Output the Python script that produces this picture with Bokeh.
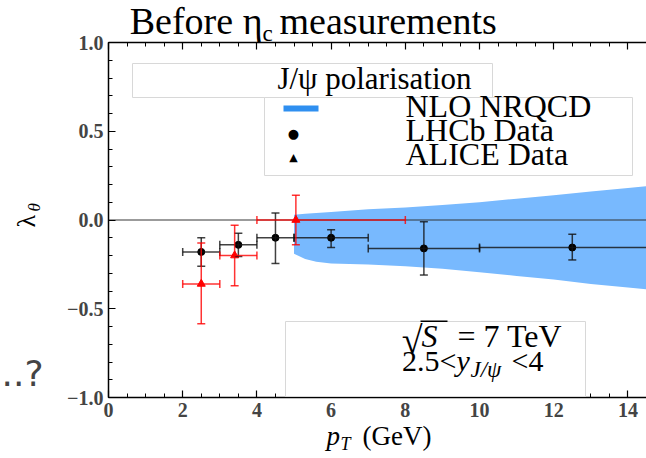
from bokeh.plotting import figure
from bokeh.models import (Label, BoxAnnotation, Whisker, TeeHead, ColumnDataSource,
                          FixedTicker, LinearAxis, CustomJSTickFormatter, Range1d)
from bokeh.embed import file_html
from bokeh.resources import INLINE
import math

# ---------------- data ----------------
# LHCb J/psi polarisation (black circles)
lhcb_pt = [2.5, 3.5, 4.5, 6.0, 8.5, 12.5]
lhcb_pt_lo = [2.0, 3.0, 4.0, 5.0, 7.0, 10.0]
lhcb_pt_hi = [3.0, 4.0, 5.0, 7.0, 10.0, 15.0]
lhcb_lam = [-0.18, -0.14, -0.10, -0.10, -0.16, -0.155]
lhcb_lam_hi = [-0.10, -0.075, 0.04, -0.055, -0.01, -0.08]
lhcb_lam_lo = [-0.26, -0.205, -0.245, -0.155, -0.31, -0.225]

# ALICE J/psi polarisation (red triangles)
alice_pt = [2.5, 3.4, 5.05]
alice_pt_lo = [2.0, 3.0, 4.0]
alice_pt_hi = [3.0, 4.0, 8.0]
alice_lam = [-0.36, -0.20, 0.0]
alice_lam_hi = [-0.13, -0.03, 0.14]
alice_lam_lo = [-0.585, -0.37, -0.14]

# NLO NRQCD band
band_pt = [5.0, 5.3, 5.6, 6.0, 7.0, 8.0, 9.0, 10.0, 11.0, 12.0, 13.0, 14.0, 15.0]
band_hi = [0.03, 0.035, 0.04, 0.045, 0.06, 0.07, 0.085, 0.10, 0.12, 0.14, 0.16, 0.18, 0.20]
band_lo = [-0.19, -0.22, -0.235, -0.245, -0.25, -0.26, -0.275, -0.295, -0.315, -0.335, -0.36, -0.38, -0.40]

zero_x = [0.0]
zero_x_end = [15.0]
zero_y = [0.0]

x_major = [0, 2, 4, 6, 8, 10, 12, 14]
y_major = [-1.0, -0.5, 0.0, 0.5, 1.0]
x_lim = (0.0, 14.5)
y_lim = (-1.0, 1.0)

# ---------------- layout (canvas px <-> data) ----------------
W, H = 646, 458
FL, FT, FW, FH = 108, 42, 538, 355
KX = FW / (x_lim[1] - x_lim[0])
KY = FH / (y_lim[1] - y_lim[0])


def X(px):
    return x_lim[0] + (px - FL) / KX


def Y(py):
    return y_lim[1] - (py - FT) / KY


SERIF = "Liberation Serif"

p = figure(width=W, height=H, x_range=Range1d(X(0), X(W)), y_range=Range1d(Y(H), Y(0)),
           output_backend="svg", toolbar_location=None, title=None, min_border=0,
           min_border_left=0, min_border_right=0, min_border_top=0, min_border_bottom=0)
p.outline_line_color = None
p.grid.visible = False
p.background_fill_color = "white"
p.border_fill_color = "white"

bottom = p.below[0]
left = p.left[0]
top = LinearAxis()
p.add_layout(top, "above")

bottom.fixed_location = y_lim[0]
top.fixed_location = y_lim[1]
left.fixed_location = x_lim[0]
bottom.bounds = x_lim
top.bounds = x_lim
left.bounds = y_lim

x_minor = [i * 0.5 for i in range(0, 30)]
y_minor = [round(-1 + i * 0.1, 2) for i in range(0, 21)]
bottom.ticker = FixedTicker(ticks=x_major, minor_ticks=x_minor)
top.ticker = FixedTicker(ticks=x_major, minor_ticks=x_minor)
left.ticker = FixedTicker(ticks=y_major, minor_ticks=y_minor)

left.formatter = CustomJSTickFormatter(
    code="return (tick < 0 ? '\u2212' : '') + Math.abs(tick).toFixed(1);")
bottom.formatter = CustomJSTickFormatter(code="return tick.toFixed(0);")
top.formatter = CustomJSTickFormatter(code="return '';")

for ax in [bottom, left, top]:
    ax.axis_line_color = "black"
    ax.axis_line_width = 1.5
    ax.major_tick_in = 7
    ax.major_tick_out = 0
    ax.minor_tick_in = 4
    ax.minor_tick_out = 0
    ax.major_tick_line_width = 1.2
    ax.minor_tick_line_width = 1
    ax.major_label_text_font = SERIF
    ax.major_label_text_font_style = "bold"
    ax.major_label_text_font_size = "20px"
    ax.major_label_standoff = 5
top.major_label_text_font_size = "1px"

# band
p.varea(x=band_pt, y1=band_lo, y2=band_hi, fill_color="#78b9fe")
# zero line
p.segment(x0=zero_x, y0=zero_y, x1=zero_x_end, y1=zero_y,
          line_color="#333333", line_alpha=0.65, line_width=1.5)

lhcb = ColumnDataSource(dict(x=lhcb_pt, y=lhcb_lam, xlo=lhcb_pt_lo, xhi=lhcb_pt_hi,
                             ylo=lhcb_lam_lo, yhi=lhcb_lam_hi))
alice = ColumnDataSource(dict(x=alice_pt, y=alice_lam, xlo=alice_pt_lo, xhi=alice_pt_hi,
                              ylo=alice_lam_lo, yhi=alice_lam_hi))


def errbars(src, color, alpha):
    for dim, base, lo, hi in [("height", "x", "ylo", "yhi"), ("width", "y", "xlo", "xhi")]:
        w = Whisker(source=src, base=base, lower=lo, upper=hi, dimension=dim,
                    line_color=color, line_alpha=alpha, line_width=1.5, level="annotation",
                    lower_head=TeeHead(size=8, line_color=color, line_alpha=alpha, line_width=1.5),
                    upper_head=TeeHead(size=8, line_color=color, line_alpha=alpha, line_width=1.5))
        p.add_layout(w)


p.scatter("x", "y", source=lhcb, marker="circle", size=7, color="black")
p.scatter("x", "y", source=alice, marker="triangle", size=8, color="#ff0000")
errbars(lhcb, "#111111", 0.8)
errbars(alice, "#ff0000", 0.8)


def box(l, t, r, b, fill="white", line="#d8d8d8"):
    p.add_layout(BoxAnnotation(left=X(l), right=X(r), top=Y(t), bottom=Y(b),
                               fill_color=fill, fill_alpha=1, line_color=line, line_width=1,
                               line_alpha=1 if line else 0))


BASE_SHIFT = 0.35  # empirical baseline correction (em)


def lab(text, px, py, size, style="normal", align="left", baseline="alphabetic",
        font=SERIF, color="black", angle=0):
    if baseline == "alphabetic":
        if angle:
            px = px - BASE_SHIFT * size
        else:
            py = py - BASE_SHIFT * size
    p.add_layout(Label(x=X(px), y=Y(py), text=text, text_font=font,
                       text_font_size=f"{size}px", text_font_style=style, text_color=color,
                       text_align=align, text_baseline=baseline, angle=angle))


# legend boxes
box(132, 63, 492, 97)
box(264, 97, 632, 175)
box(285, 321, 585, 396)

lab("J/\u03c8 polarisation", 374, 89, 31, align="center")
# legend keys
p.add_layout(BoxAnnotation(left=X(283), right=X(318), top=Y(105), bottom=Y(111),
                           fill_color="#2f8ff0", fill_alpha=1, line_alpha=0))
lab("\u25cf", 293, 133, 13, align="center", baseline="middle", font="DejaVu Sans")
lab("\u25b2", 293, 157, 11, align="center", baseline="middle", font="DejaVu Sans")
lab("NLO NRQCD", 405, 117, 32)
lab("LHCb Data", 405, 141, 32)
lab("ALICE Data", 405, 165, 32)

# energy / rapidity box
lab("\u221a", 422, 353, 38, align="right")
lab("S", 421, 347, 32, style="italic")
p.add_layout(BoxAnnotation(left=X(420), right=X(447), top=Y(320), bottom=Y(321.5),
                           fill_color="black", fill_alpha=1, line_alpha=0))
lab("= 7 TeV", 457, 347, 32)
lab("2.5<", 456, 370, 30, align="right")
lab("y", 456, 370, 30, style="italic")
lab("J/\u03c8", 470, 377, 23, style="italic")
lab("<4", 511, 370, 30)

# title
lab("Before \u03b7", 262, 34, 38, align="right")
lab("c", 262, 41, 23)
lab("measurements", 279, 34, 38)

# axis labels
lab("p", 326, 445, 27, style="italic")
lab("T", 340, 450, 18, style="italic")
lab("(GeV)", 362, 445, 27)
lab("\u03bb", 35, 227, 26, angle=math.pi / 2)
lab("\u03b8", 40, 211, 17, style="italic", angle=math.pi / 2)

# stray text at left edge
lab("..?", 1, 386, 36, align="left", font="DejaVu Sans", color="#444444")

open("out.html", "w").write(file_html(p, INLINE))
